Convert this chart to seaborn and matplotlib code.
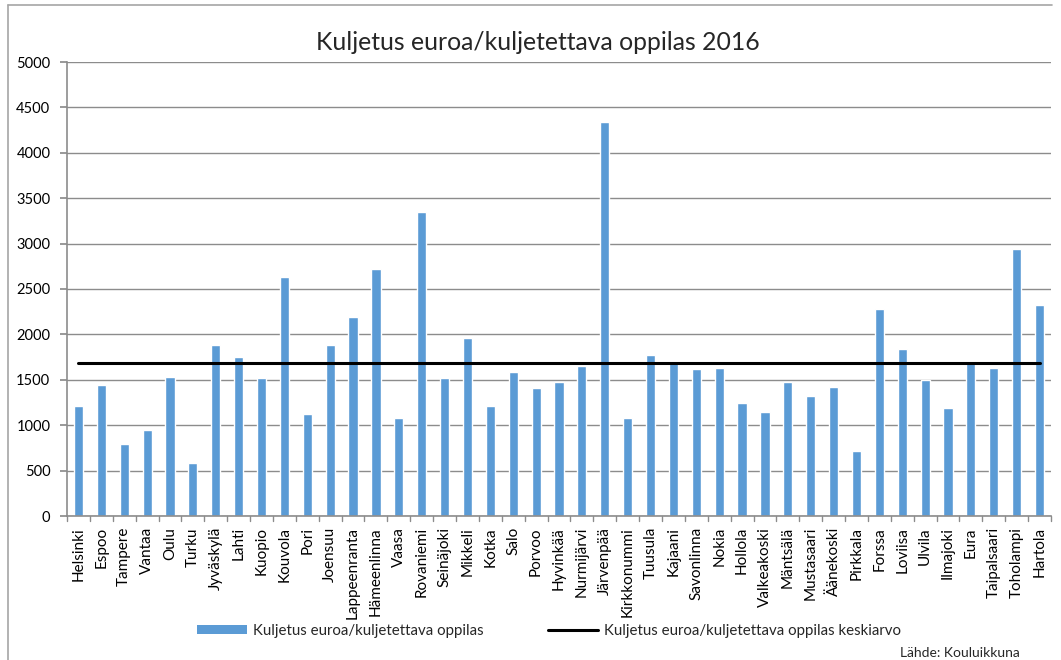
import matplotlib
matplotlib.use("Agg")
import matplotlib.pyplot as plt
from matplotlib.lines import Line2D
from matplotlib.patches import Patch
import numpy as np
import pandas as pd
import seaborn as sns

kunnat = ["Helsinki", "Espoo", "Tampere", "Vantaa", "Oulu", "Turku", "Jyväskylä",
          "Lahti", "Kuopio", "Kouvola", "Pori", "Joensuu", "Lappeenranta",
          "Hämeenlinna", "Vaasa", "Rovaniemi", "Seinäjoki", "Mikkeli", "Kotka",
          "Salo", "Porvoo", "Hyvinkää", "Nurmijärvi", "Järvenpää", "Kirkkonummi",
          "Tuusula", "Kajaani", "Savonlinna", "Nokia", "Hollola", "Valkeakoski",
          "Mäntsälä", "Mustasaari", "Äänekoski", "Pirkkala", "Forssa", "Loviisa",
          "Ulvila", "Ilmajoki", "Eura", "Taipalsaari", "Toholampi", "Hartola"]
kuljetus = [1208, 1447, 797, 944, 1535, 588, 1888,
            1751, 1516, 2628, 1128, 1880, 2192,
            2722, 1076, 3350, 1516, 1965, 1211,
            1586, 1410, 1480, 1652, 4340, 1076,
            1770, 1700, 1616, 1627, 1249, 1142,
            1480, 1318, 1421, 712, 2284, 1843,
            1498, 1194, 1711, 1627, 2940, 2328]
keskiarvo = 1682

df = pd.DataFrame({"kunta": kunnat, "kuljetus": kuljetus})
df["keskiarvo"] = keskiarvo

sns.set_theme(style="white")
plt.rcParams["font.family"] = ["Lato", "DejaVu Sans"]

fig = plt.figure(figsize=(10.61, 6.6), dpi=100)
ax = fig.add_axes([67 / 1061, (660 - 516) / 660, (1051 - 67) / 1061, (516 - 62) / 660])

sns.barplot(data=df, x="kunta", y="kuljetus", color="#5B9BD5", saturation=1,
            width=0.4, ax=ax, zorder=2)
sns.lineplot(data=df, x="kunta", y="keskiarvo", color="black", linewidth=2.2,
             ax=ax, zorder=3)

ax.set_ylim(0, 5000)
ax.set_yticks(np.arange(0, 5001, 500))
ax.set_xlim(-0.5, len(kunnat) - 0.5)
ax.yaxis.grid(True, color="#8C8C8C", linewidth=1)
ax.set_axisbelow(True)
ax.set_xlabel("")
ax.set_ylabel("")
for s in ["top", "right"]:
    ax.spines[s].set_visible(False)
for s in ["left", "bottom"]:
    ax.spines[s].set_color("#8C8C8C")
    ax.spines[s].set_linewidth(1.2)

ax.tick_params(axis="y", labelsize=10.5, length=5, color="#8C8C8C", direction="out",
               left=True, pad=7, labelcolor="black")
ax.tick_params(axis="x", labelsize=11, length=0, rotation=90, pad=8, labelcolor="black")
# tick marks between categories like Excel
for b in np.arange(-0.5, len(kunnat), 1.0):
    ax.plot([b, b], [0, -0.012], transform=ax.get_xaxis_transform(),
            color="#8C8C8C", linewidth=1, clip_on=False)

fig.text(538 / 1061, 1 - 43 / 660, "Kuljetus euroa/kuljetettava oppilas 2016",
         ha="center", va="center", fontsize=17.8)

handles = [Patch(facecolor="#5B9BD5", edgecolor="none"),
           Line2D([0], [0], color="black", linewidth=2.2)]
fig.legend(handles, ["Kuljetus euroa/kuljetettava oppilas",
                     "Kuljetus euroa/kuljetettava oppilas keskiarvo"],
           loc="center", bbox_to_anchor=(549 / 1061, 1 - 631 / 660), ncol=2,
           frameon=False, fontsize=10.8, handlelength=3.3, handleheight=0.6,
           columnspacing=4.3, handletextpad=0.4)

fig.text(1020 / 1061, 1 - 653 / 660, "Lähde: Kouluikkuna", ha="right",
         va="center", fontsize=10)

# outer chart frame
fig.add_artist(Line2D([8 / 1061, 8 / 1061], [0, 1 - 5 / 660], color="#A6A6A6",
                      linewidth=1.2, transform=fig.transFigure))
fig.add_artist(Line2D([8 / 1061, 1052 / 1061], [1 - 5 / 660, 1 - 5 / 660],
                      color="#A6A6A6", linewidth=1.2, transform=fig.transFigure))

fig.savefig("out.png", dpi=100)
